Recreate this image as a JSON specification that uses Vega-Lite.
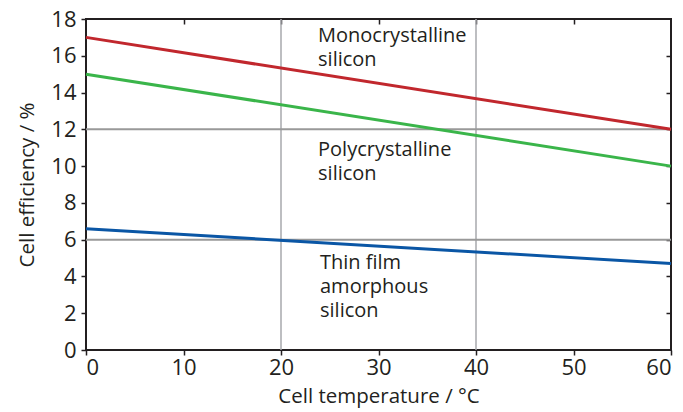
{
  "$schema": "https://vega.github.io/schema/vega-lite/v6.json",
  "width": 585,
  "height": 331,
  "autosize": {"type": "none"},
  "padding": {"left": 86, "top": 19, "right": 12, "bottom": 62},
  "background": "white",
  "config": {
    "font": "Open Sans",
    "view": {"stroke": "#231f20", "strokeWidth": 2},
    "axis": {
      "domain": false,
      "grid": false,
      "tickColor": "#231f20",
      "tickWidth": 1.5,
      "labelColor": "#231f20",
      "titleColor": "#231f20",
      "labelFont": "Open Sans",
      "titleFont": "Open Sans",
      "titleFontWeight": "normal"
    }
  },
  "resolve": {"axis": {"x": "independent", "y": "independent"}},
  "datasets": {
    "lines": [
      {"series": "Monocrystalline silicon", "temp": 0, "eff": 17.0},
      {"series": "Monocrystalline silicon", "temp": 60, "eff": 12.0},
      {"series": "Polycrystalline silicon", "temp": 0, "eff": 15.0},
      {"series": "Polycrystalline silicon", "temp": 60, "eff": 10.0},
      {"series": "Thin film amorphous silicon", "temp": 0, "eff": 6.6},
      {"series": "Thin film amorphous silicon", "temp": 60, "eff": 4.7}
    ],
    "labels": [
      {"text": "Monocrystalline\nsilicon", "temp": 23.8, "eff": 16.75},
      {"text": "Polycrystalline\nsilicon", "temp": 23.8, "eff": 10.55},
      {"text": "Thin film\namorphous\nsilicon", "temp": 24.0, "eff": 4.4}
    ],
    "xgrid": [{"temp": 20}, {"temp": 40}],
    "ygrid": [{"eff": 6}, {"eff": 12}]
  },
  "layer": [
    {
      "data": {"name": "xgrid"},
      "mark": {"type": "rule", "color": "#a7a9ac", "strokeWidth": 1.5},
      "encoding": {
        "x": {
          "field": "temp", "type": "quantitative",
          "scale": {"domain": [0, 60], "nice": false},
          "axis": {"orient": "top", "values": [10, 20, 30, 40, 50], "labels": false, "tickSize": -5, "title": null}
        }
      }
    },
    {
      "data": {"name": "ygrid"},
      "mark": {"type": "rule", "color": "#999999", "strokeWidth": 2},
      "encoding": {
        "y": {
          "field": "eff", "type": "quantitative",
          "scale": {"domain": [0, 18], "nice": false},
          "axis": {"orient": "right", "values": [2, 4, 6, 8, 10, 12, 14, 16], "labels": false, "tickSize": -5, "title": null}
        }
      }
    },
    {
      "data": {"name": "lines"},
      "mark": {"type": "line", "strokeWidth": 3},
      "encoding": {
        "x": {
          "field": "temp", "type": "quantitative",
          "scale": {"domain": [0, 60], "nice": false},
          "axis": {"orient": "bottom", "values": [0, 10, 20, 30, 40, 50, 60], "tickSize": 5, "labelPadding": 2, "labelFontSize": 22, "title": "Cell temperature / °C", "titleFontSize": 20.5, "titlePadding": 8}
        },
        "y": {
          "field": "eff", "type": "quantitative",
          "scale": {"domain": [0, 18], "nice": false},
          "axis": {"orient": "left", "values": [0, 2, 4, 6, 8, 10, 12, 14, 16, 18], "tickSize": 5, "labelPadding": 5, "labelFontSize": 22, "title": "Cell efficiency / %", "titleFontSize": 20.5, "titlePadding": 13}
        },
        "color": {
          "field": "series", "type": "nominal",
          "scale": {"domain": ["Monocrystalline silicon", "Polycrystalline silicon", "Thin film amorphous silicon"], "range": ["#c1272d", "#3ab54a", "#0a56a5"]},
          "legend": null
        },
        "detail": {"field": "series"}
      }
    },
    {
      "data": {"name": "labels"},
      "mark": {"type": "text", "align": "left", "baseline": "alphabetic", "fontSize": 20, "lineHeight": 24, "lineBreak": "\n", "color": "#231f20", "font": "Open Sans"},
      "encoding": {
        "x": {"field": "temp", "type": "quantitative", "scale": {"domain": [0, 60], "nice": false}, "axis": null},
        "y": {"field": "eff", "type": "quantitative", "scale": {"domain": [0, 18], "nice": false}, "axis": null},
        "text": {"field": "text"}
      }
    }
  ]
}
